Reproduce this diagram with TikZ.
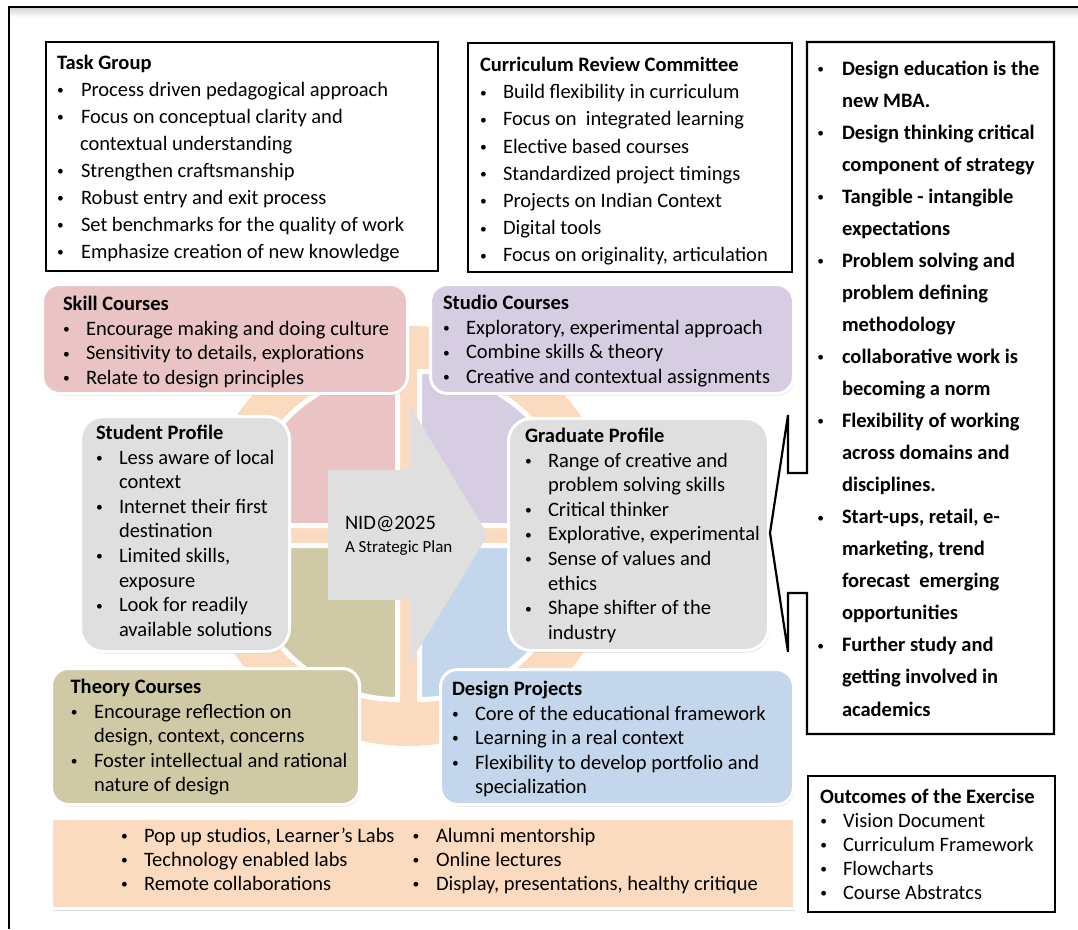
\documentclass[tikz,border=0pt]{standalone}
\usepackage{fontspec}
\setmainfont{Carlito}
\usetikzlibrary{shadows}
\definecolor{pinkF}{RGB}{234,195,196}
\definecolor{lavF}{RGB}{214,205,226}
\definecolor{oliveF}{RGB}{207,202,165}
\definecolor{blueF}{RGB}{196,214,235}
\definecolor{grayF}{RGB}{223,223,223}
\definecolor{peachF}{RGB}{251,219,191}
\newlength\bti \setlength\bti{23pt}
\newcommand\SB{\makebox[7.2pt]{\raisebox{1.6pt}{\fontsize{13.5}{13.5}\selectfont\mdseries •}}}
\newcommand\BI[1]{\makebox[\bti][l]{\SB}#1}
\newcommand\CT[1]{\hspace*{\bti}#1}
\newcommand\TL[1]{\vtop{\halign{##\hfil\cr#1\crcr}}}
\tikzset{
  cbox/.style={draw=white, line width=3, rounded corners=17, inner sep=0, outer sep=0, anchor=north west,
    drop shadow={opacity=.25, shadow xshift=1pt, shadow yshift=-2pt}},
  pbox/.style={cbox, rounded corners=23},
  bbox/.style={draw=black, line width=2.2, inner sep=0, outer sep=0, anchor=north west, fill=white},
  sector/.style={draw=white, line width=5},
  txt/.style={inner sep=0, outer sep=0, anchor=base west, font=\fontsize{20.5}{24.6}\selectfont},
}
\begin{document}
\begin{tikzpicture}[x=1pt,y=-1pt]
\useasboundingbox (0,0) rectangle (1078,929);
\fill[white] (0,0) rectangle (1078,929);
% frame
\shade[top color=black!16, bottom color=white] (10,8) rectangle (1078,17);
\draw[line width=2] (9,929) -- (9,7) -- (1078,7);
% ring and sectors
\fill[peachF] (408.5,536) circle[radius=210];
\filldraw[sector, fill=pinkF] (397.5,525.5) -- ++(-154,0) arc[start angle=180,end angle=270,radius=154] -- cycle;
\filldraw[sector, fill=lavF] (419.5,525.5) -- ++(0,-154) arc[start angle=270,end angle=360,radius=154] -- cycle;
\filldraw[sector, fill=oliveF] (397.5,545.5) -- ++(0,154) arc[start angle=90,end angle=180,radius=154] -- cycle;
\filldraw[sector, fill=blueF] (419.5,545.5) -- ++(154,0) arc[start angle=0,end angle=90,radius=154] -- cycle;
% central arrow
\fill[grayF] (328,470) -- (410,470) -- (410,406) -- (488,535) -- (410,663) -- (410,600) -- (328,600) -- cycle;
\node[txt, font=\fontsize{20.5}{24}\selectfont] (nid) at (345,529.5) {NID@2025};
\node[txt, font=\fontsize{17}{20}\selectfont] (plan) at (345,552.5) {A Strategic Plan};
% coloured boxes
\node[cbox, fill=pinkF, minimum width=365, minimum height=109] (skill) at (42.5,284.5) {};
\node[cbox, fill=lavF, minimum width=363, minimum height=109] (studio) at (430.5,284.5) {};
\node[pbox, fill=grayF, minimum width=209, minimum height=235] (student) at (80.5,416.5) {};
\node[pbox, fill=grayF, minimum width=260, minimum height=232] (graduate) at (508.5,418.5) {};
\node[cbox, fill=oliveF, minimum width=308, minimum height=136] (theory) at (51.5,668.5) {};
\node[cbox, fill=blueF, minimum width=353, minimum height=135] (design) at (440.5,669.5) {};
\node[cbox, rounded corners=0, fill=peachF, minimum width=743, minimum height=90] (bottom) at (51.5,818.5) {};
% black boxes
\node[bbox, minimum width=392, minimum height=229] (task) at (46,42) {};
\node[bbox, minimum width=324, minimum height=229] (curr) at (468,43) {};
\node[bbox, minimum width=247, minimum height=136] (outc) at (808,776) {};
\draw[line width=2.2, line join=miter] (807,42) -- (1054,42) -- (1054,734) -- (807,734) -- (807,593) -- (788,593)
  -- (788,652) -- (770,533) -- (788,415) -- (788,473) -- (807,473) -- cycle;
% texts
\node[txt, font=\fontsize{20.5}{27}\selectfont] (taskT) at (57,69.5) {\setlength\bti{24pt}\TL{%
\textbf{Task Group}\cr
\BI{Process driven pedagogical approach}\cr
\BI{Focus on conceptual clarity and}\cr
\CT{\hspace*{-1pt}contextual understanding}\cr
\BI{Strengthen craftsmanship}\cr
\BI{Robust entry and exit process}\cr
\BI{Set benchmarks for the quality of work}\cr
\BI{Emphasize creation of new knowledge}}};
\node[txt, font=\fontsize{20.5}{27.2}\selectfont] (currT) at (480,71.5) {\TL{%
\textbf{Curriculum Review Committee}\cr
\BI{Build flexibility in curriculum}\cr
\BI{Focus on~ integrated learning}\cr
\BI{Elective based courses}\cr
\BI{Standardized project timings}\cr
\BI{Projects on Indian Context}\cr
\BI{Digital tools}\cr
\BI{Focus on originality, articulation}}};
\node[txt, font=\fontsize{20.5}{32.05}\selectfont\bfseries] (rightT) at (817,75) {\setlength\bti{25pt}\TL{%
\BI{Design education is the}\cr
\CT{new MBA.}\cr
\BI{Design thinking critical}\cr
\CT{component of strategy}\cr
\BI{Tangible - intangible}\cr
\CT{expectations}\cr
\BI{Problem solving and}\cr
\CT{problem defining}\cr
\CT{methodology}\cr
\BI{collaborative work is}\cr
\CT{becoming a norm}\cr
\BI{Flexibility of working}\cr
\CT{across domains and}\cr
\CT{disciplines.}\cr
\BI{Start-ups, retail, e-}\cr
\CT{marketing, trend}\cr
\CT{forecast~ emerging}\cr
\CT{opportunities}\cr
\BI{Further study and}\cr
\CT{getting involved in}\cr
\CT{academics}}};
\node[txt] (skillT) at (63,310.5) {\TL{%
\textbf{Skill Courses}\cr
\BI{Encourage making and doing culture}\cr
\BI{Sensitivity to details, explorations}\cr
\BI{Relate to design principles}}};
\node[txt] (studioT) at (443,309.5) {\TL{%
\textbf{Studio Courses}\cr
\BI{Exploratory, experimental approach}\cr
\BI{Combine skills \& theory}\cr
\BI{Creative and contextual assignments}}};
\node[txt] (studentT) at (96,439.5) {\TL{%
\textbf{Student Profile}\cr
\BI{Less aware of local}\cr
\CT{context}\cr
\BI{Internet their first}\cr
\CT{destination}\cr
\BI{Limited skills,}\cr
\CT{exposure}\cr
\BI{Look for readily}\cr
\CT{available solutions}}};
\node[txt] (graduateT) at (525,442.5) {\TL{%
\textbf{Graduate Profile}\cr
\BI{Range of creative and}\cr
\CT{problem solving skills}\cr
\BI{Critical thinker}\cr
\BI{Explorative, experimental}\cr
\BI{Sense of values and}\cr
\CT{ethics}\cr
\BI{Shape shifter of the}\cr
\CT{industry}}};
\node[txt, font=\fontsize{20.5}{24.5}\selectfont] (theoryT) at (70.6,693.5) {\setlength\bti{23.4pt}\TL{%
\textbf{Theory Courses}\cr
\BI{Encourage reflection on}\cr
\CT{design, context, concerns}\cr
\BI{Foster intellectual and rational}\cr
\CT{nature of design}}};
\node[txt, font=\fontsize{20.5}{24.5}\selectfont] (designT) at (452,695.5) {\TL{%
\textbf{Design Projects}\cr
\BI{Core of the educational framework}\cr
\BI{Learning in a real context}\cr
\BI{Flexibility to develop portfolio and}\cr
\CT{specialization}}};
\node[txt, font=\fontsize{20.5}{24}\selectfont] (bottomA) at (121,842.5) {\TL{%
\BI{Pop up studios, Learner’s Labs}\cr
\BI{Technology enabled labs}\cr
\BI{Remote collaborations}}};
\node[txt, font=\fontsize{20.5}{24}\selectfont] (bottomB) at (412.5,842.5) {\setlength\bti{23.5pt}\TL{%
\BI{Alumni mentorship}\cr
\BI{Online lectures}\cr
\BI{Display, presentations, healthy critique}}};
\node[txt, font=\fontsize{20.5}{24}\selectfont] (outcT) at (820,803.5) {\TL{%
\textbf{Outcomes of the Exercise}\cr
\BI{Vision Document}\cr
\BI{Curriculum Framework}\cr
\BI{Flowcharts}\cr
\BI{Course Abstratcs}}};
\end{tikzpicture}
\end{document}
